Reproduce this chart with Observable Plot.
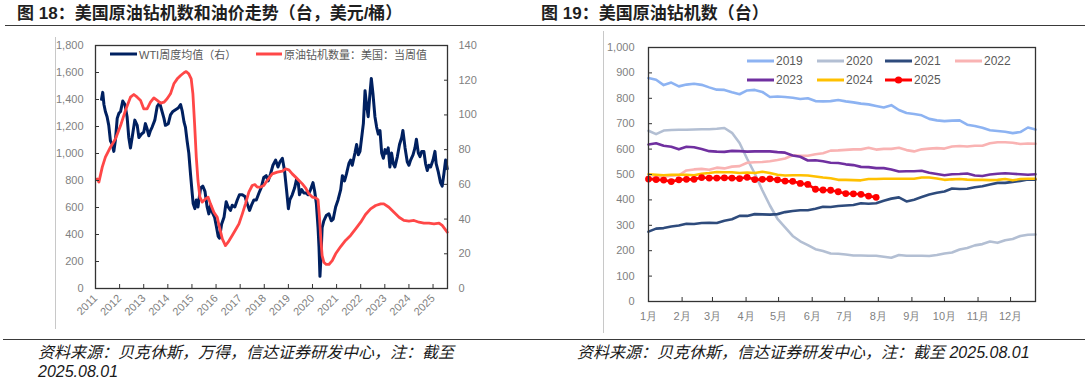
<!DOCTYPE html>
<html><head><meta charset="utf-8">
<script src="https://cdn.jsdelivr.net/npm/d3@7"></script>
<script src="https://cdn.jsdelivr.net/npm/@observablehq/plot@0.6"></script>
<style>
body{margin:0;width:1088px;height:380px;position:relative;background:#fff;overflow:hidden;font-family:"Liberation Sans",Arial,"Noto Sans CJK SC",sans-serif}
.abs{position:absolute}
.title{position:absolute;font-family:"Liberation Sans","Noto Sans CJK SC",sans-serif;font-weight:bold;font-size:17px;color:#1f1f1f;white-space:nowrap;line-height:20px}
.rule{position:absolute;height:0;border-top:1.5px solid #3a3a3a}
.vline{position:absolute;width:1px;background:#c8c8c8}
.foot{position:absolute;font-family:"Liberation Sans","Noto Sans CJK SC",sans-serif;font-style:italic;font-size:16px;color:#1a1a1a;line-height:19px;white-space:nowrap}
.leg{position:absolute;display:flex;align-items:center;white-space:nowrap;color:#595959;z-index:5}
.leg svg{display:block;margin-right:2px}
</style></head><body>
<div class="title" style="left:17px;top:4px">图 18：美国原油钻机数和油价走势（台，美元/桶）</div>
<div class="rule" style="left:5px;top:25px;width:535px"></div>
<div class="title" style="left:541px;top:4px">图 19：美国原油钻机数（台）</div>
<div class="rule" style="left:540px;top:25px;width:545px"></div>
<div class="vline" style="left:55px;top:37px;height:292px"></div>
<div class="vline" style="left:603px;top:31px;height:302px"></div>
<div id="left" class="abs" style="left:0;top:30px"></div>
<div id="right" class="abs" style="left:600px;top:30px"></div>
<div class="rule" style="left:3px;top:339px;width:1082px"></div>
<div class="foot" style="left:38px;top:343px">资料来源：贝克休斯，万得，信达证券研发中心，注：截至</div>
<div class="foot" style="left:38px;top:362px">2025.08.01</div>
<div class="foot" style="left:577px;top:343px">资料来源：贝克休斯，信达证券研发中心，注：截至 2025.08.01</div>
<script>
// ---- Left chart data: US oil rig count (left axis) and WTI weekly avg (right axis) ----
const rigCount = [[2011.07,812],[2011.14,788],[2011.28,899],[2011.41,973],[2011.62,1047],[2011.83,1109],[2012.04,1207],[2012.24,1318],[2012.45,1417],[2012.59,1437],[2012.73,1417],[2012.87,1393],[2013.0,1331],[2013.14,1331],[2013.28,1380],[2013.42,1412],[2013.56,1393],[2013.70,1373],[2013.84,1380],[2013.97,1405],[2014.11,1442],[2014.25,1516],[2014.39,1553],[2014.53,1578],[2014.67,1598],[2014.76,1607],[2014.87,1590],[2014.97,1553],[2015.04,1442],[2015.11,1220],[2015.18,973],[2015.25,800],[2015.33,677],[2015.43,640],[2015.56,664],[2015.67,677],[2015.77,627],[2015.91,565],[2016.05,528],[2016.14,454],[2016.26,368],[2016.39,318],[2016.50,343],[2016.67,393],[2016.81,435],[2016.95,479],[2017.09,553],[2017.22,627],[2017.36,714],[2017.50,763],[2017.61,770],[2017.71,751],[2017.85,751],[2017.98,763],[2018.12,800],[2018.33,849],[2018.54,862],[2018.75,869],[2018.88,886],[2019.02,879],[2019.16,849],[2019.30,825],[2019.44,800],[2019.58,775],[2019.71,746],[2019.85,701],[2019.99,677],[2020.13,672],[2020.23,657],[2020.29,528],[2020.35,356],[2020.40,244],[2020.47,195],[2020.57,178],[2020.68,178],[2020.82,207],[2020.96,257],[2021.17,311],[2021.37,356],[2021.58,393],[2021.79,442],[2022.0,491],[2022.20,548],[2022.41,590],[2022.62,615],[2022.83,627],[2022.96,627],[2023.17,602],[2023.38,565],[2023.59,528],[2023.79,504],[2024.0,499],[2024.21,504],[2024.42,491],[2024.62,484],[2024.83,484],[2025.04,479],[2025.25,484],[2025.38,467],[2025.49,442],[2025.59,417]];
const wtiPrice = [[2011.25,109],[2011.30,113],[2011.35,106],[2011.41,102],[2011.48,99],[2011.55,94],[2011.62,85],[2011.69,83],[2011.76,79],[2011.83,86],[2011.90,98],[2011.97,101],[2012.04,102],[2012.13,108],[2012.22,106],[2012.31,99],[2012.38,87],[2012.45,81],[2012.52,87],[2012.63,97],[2012.73,94],[2012.80,87],[2012.91,89],[2013.00,90],[2013.07,95],[2013.14,92],[2013.21,88],[2013.28,91],[2013.35,93],[2013.46,97],[2013.56,105],[2013.66,107],[2013.72,104],[2013.84,98],[2013.90,94],[2014.02,95],[2014.11,100],[2014.21,102],[2014.32,103],[2014.43,104],[2014.53,106],[2014.60,102],[2014.67,96],[2014.73,93],[2014.80,85],[2014.87,78],[2014.94,66],[2015.01,55],[2015.05,49],[2015.12,46],[2015.18,51],[2015.25,47],[2015.36,58],[2015.45,59],[2015.54,56],[2015.63,47],[2015.70,43],[2015.77,48],[2015.84,44],[2015.94,41],[2016.01,36],[2016.09,30],[2016.14,29],[2016.23,37],[2016.33,41],[2016.42,50],[2016.50,47],[2016.60,45],[2016.67,48],[2016.78,47],[2016.88,51],[2016.97,54],[2017.09,54],[2017.20,53],[2017.29,49],[2017.39,45],[2017.47,48],[2017.57,51],[2017.67,51],[2017.78,55],[2017.87,58],[2017.98,64],[2018.08,65],[2018.16,62],[2018.26,66],[2018.36,71],[2018.47,74],[2018.57,70],[2018.65,73],[2018.75,75],[2018.84,68],[2018.93,56],[2019.00,46],[2019.06,51],[2019.16,54],[2019.26,58],[2019.34,63],[2019.41,61],[2019.46,54],[2019.55,57],[2019.64,55],[2019.74,55],[2019.82,54],[2019.92,57],[2020.02,61],[2020.09,56],[2020.16,49],[2020.23,35],[2020.27,24],[2020.31,7],[2020.35,18],[2020.40,35],[2020.47,39],[2020.57,42],[2020.68,43],[2020.78,39],[2020.86,40],[2020.96,47],[2021.06,51],[2021.17,57],[2021.24,65],[2021.33,62],[2021.41,66],[2021.51,72],[2021.58,74],[2021.65,71],[2021.76,78],[2021.83,83],[2021.90,77],[2021.97,79],[2022.04,87],[2022.11,95],[2022.18,114],[2022.24,106],[2022.31,99],[2022.37,110],[2022.44,121],[2022.51,112],[2022.59,99],[2022.66,93],[2022.73,89],[2022.80,91],[2022.87,78],[2022.94,75],[2023.01,80],[2023.07,78],[2023.14,81],[2023.21,70],[2023.28,78],[2023.35,72],[2023.42,70],[2023.52,76],[2023.61,83],[2023.70,87],[2023.75,91],[2023.84,81],[2023.93,73],[2024.00,71],[2024.07,74],[2024.17,77],[2024.25,81],[2024.31,86],[2024.39,78],[2024.46,76],[2024.53,79],[2024.62,79],[2024.69,72],[2024.76,68],[2024.83,71],[2024.90,70],[2025.00,74],[2025.08,79],[2025.13,72],[2025.22,67],[2025.31,61],[2025.38,59],[2025.45,66],[2025.52,74],[2025.59,69]];
const leftTicks = [0,200,400,600,800,1000,1200,1400,1600,1800];
const rightTicks = [0,20,40,60,80,100,120,140];
const yearTicks = [2011,2012,2013,2014,2015,2016,2017,2018,2019,2020,2021,2022,2023,2024,2025];
const leftLegend = ["WTI周度均值（右）","原油钻机数量：美国：当周值"];

// ---- Right chart data: weekly US oil rig count by year ----
const y2019 = [880,873,852,862,847,854,857,853,843,834,833,824,816,831,833,825,805,807,805,802,797,800,789,788,789,793,788,784,779,776,770,764,773,754,742,738,733,719,713,710,712,713,696,691,684,674,671,668,663,667,685,677];
const y2020 = [672,659,673,675,676,676,677,678,678,680,683,664,624,562,504,438,378,325,292,258,237,222,206,199,189,188,185,181,181,180,180,176,172,183,180,180,180,179,183,189,193,205,211,221,226,236,231,241,246,258,263,264];
const y2021 = [275,287,289,295,299,306,305,309,310,309,318,324,337,337,344,343,342,344,352,356,359,359,365,373,372,376,378,380,387,385,387,397,405,410,394,401,411,421,428,433,445,443,444,450,454,461,467,467,471,475,480,480];
const y2022 = [481,492,491,495,497,516,520,522,519,527,524,531,533,546,548,549,552,557,563,576,574,574,580,584,594,595,597,599,599,605,598,601,601,605,596,591,599,602,604,602,610,612,610,613,613,623,627,627,625,620,622,621];
const y2023 = [618,623,613,609,599,609,607,600,592,590,589,593,592,590,591,591,591,588,586,575,570,555,556,552,546,545,540,537,530,529,525,525,520,512,513,513,515,507,502,497,501,502,504,496,494,500,503,505,503,501,499,501];
const y2024 = [501,499,497,499,499,499,497,503,506,510,509,509,506,508,506,511,506,499,496,497,497,496,492,488,485,479,479,478,477,482,482,483,483,483,483,483,488,488,484,479,481,482,480,479,479,478,479,482,477,482,483,483];
const y2025 = [482,480,478,472,479,481,481,488,486,486,487,486,484,489,480,481,483,479,474,473,465,461,442,439,438,432,425,424,422,415,410];
const seriesNames = ["2019","2020","2021","2022","2023","2024","2025"];
const seriesColors = ["#8db3f2","#b3bfd3","#2e4b7c","#f9b3b3","#7030a0","#ffc000","#ff0000"];
const monthDays = [0,31,59,90,120,151,181,212,243,273,304,334];
const monthLabels = ["1月","2月","3月","4月","5月","6月","7月","8月","9月","10月","11月","12月"];
const rTicks = [0,100,200,300,400,500,600,700,800,900,1000];

// ---- Left chart ----
const K = 1800 / 140;
const rig = rigCount.map(([t, v]) => ({t, v}));
const wti = wtiPrice.map(([t, v]) => ({t, v: v * K}));
const fmt = d3.format(",");
const left = Plot.plot({
  width: 540, height: 305,
  marginLeft: 95, marginRight: 93, marginTop: 15, marginBottom: 47,
  x: {domain: [2011, 2025.6]},
  y: {domain: [0, 1800]},
  style: {fontFamily: "Liberation Sans, Arial, sans-serif", fontSize: "11px", color: "#7f7f7f", background: "transparent"},
  marks: [
    Plot.line(wti, {x: "t", y: "v", stroke: "#002060", strokeWidth: 3, strokeLinejoin: "round"}),
    Plot.line(rig, {x: "t", y: "v", stroke: "#ff4747", strokeWidth: 2.8, strokeLinejoin: "round"}),
    Plot.frame({stroke: "#333", strokeWidth: 1.3}),
    Plot.axisY(leftTicks, {anchor: "left", tickSize: -4, tickPadding: 16, tickFormat: fmt, stroke: "#333", fill: "#7f7f7f", label: null}),
    Plot.axisY(rightTicks.map(d => d * K), {anchor: "right", tickSize: -4, tickPadding: 15, tickFormat: d => String(Math.round(d / K)), stroke: "#333", fill: "#7f7f7f", label: null}),
    Plot.axisX(yearTicks, {anchor: "bottom", tickSize: -4, tickPadding: 12, tickRotate: -45, textAnchor: "end", tickFormat: d => String(d), stroke: "#333", fill: "#7f7f7f", label: null})
  ]
});
document.getElementById("left").appendChild(left);

// ---- Right chart ----
const all = [y2019, y2020, y2021, y2022, y2023, y2024, y2025];
const right = Plot.plot({
  width: 488, height: 305,
  marginLeft: 48, marginRight: 53, marginTop: 17, marginBottom: 34,
  x: {domain: [0, 357]},
  y: {domain: [0, 1000]},
  style: {fontFamily: "Liberation Sans, Arial, sans-serif", fontSize: "11px", color: "#7f7f7f", background: "transparent"},
  marks: [
    ...all.map((arr, k) => Plot.line(arr, {x: (d, i) => i * 7, y: d => d, stroke: seriesColors[k], strokeWidth: 2.6, strokeLinejoin: "round"})),
    Plot.dot(y2025, {x: (d, i) => i * 7, y: d => d, r: 3.4, fill: seriesColors[6]}),
    Plot.frame({stroke: "#333", strokeWidth: 1.3}),
    Plot.axisY(rTicks, {anchor: "left", tickSize: -4, tickPadding: 18, tickFormat: fmt, stroke: "#333", fill: "#7f7f7f", label: null}),
    Plot.axisX(monthDays, {anchor: "bottom", tickSize: -4, tickPadding: 15, tickFormat: d => monthLabels[monthDays.indexOf(d)], stroke: "#333", fill: "#7f7f7f", label: null})
  ]
});
document.getElementById("right").appendChild(right);

// ---- Legends (HTML overlays) ----
function legendItem(x, y, w, color, label, dot, size) {
  const div = document.createElement("div");
  div.className = "leg";
  div.style.left = x + "px";
  div.style.top = (y - 8) + "px";
  div.style.height = "16px";
  div.style.fontSize = size + "px";
  div.innerHTML = `<svg width="${w}" height="16"><line x1="0" y1="8" x2="${w}" y2="8" stroke="${color}" stroke-width="3"/>${dot ? `<circle cx="${w/2}" cy="8" r="3.6" fill="${color}"/>` : ""}</svg><span>${label}</span>`;
  document.body.appendChild(div);
}
legendItem(110, 54, 27, "#002060", leftLegend[0], false, 11);
legendItem(256, 54, 26, "#ff4747", leftLegend[1], false, 11);
const legX = [747, 817, 885, 955];
seriesNames.forEach((name, k) => {
  const row = k < 4 ? 0 : 1;
  const col = k < 4 ? k : k - 4;
  legendItem(legX[col], row ? 80 : 61, 27, seriesColors[k], name, k === 6, 12);
});
</script>
</body></html>
